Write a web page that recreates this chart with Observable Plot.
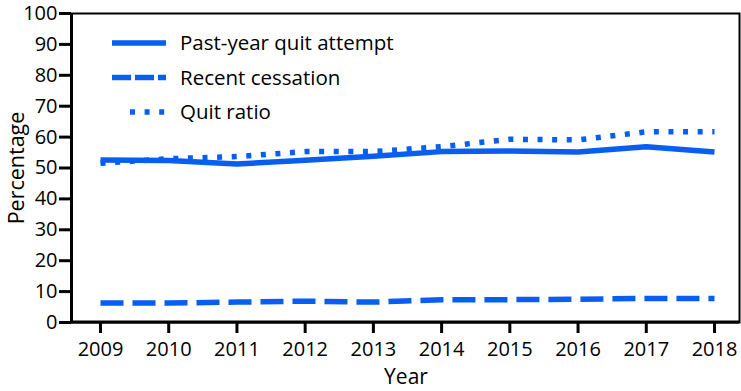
<!DOCTYPE html>
<html>
<head>
<meta charset="utf-8">
<script src="https://cdn.jsdelivr.net/npm/d3@7"></script>
<script src="https://cdn.jsdelivr.net/npm/@observablehq/plot@0.6"></script>
<style>
  html, body { margin: 0; padding: 0; background: #fff; }
  #chart svg { display: block; font-family: "Open Sans", sans-serif; }
</style>
</head>
<body>
<div id="chart"></div>
<script>
const years = [2009, 2010, 2011, 2012, 2013, 2014, 2015, 2016, 2017, 2018];
const pastYearQuitAttempt = [52.6, 52.4, 51.3, 52.5, 53.8, 55.3, 55.5, 55.2, 56.9, 55.2];
const recentCessation = [6.3, 6.3, 6.6, 6.9, 6.6, 7.4, 7.4, 7.5, 7.8, 7.8];
const quitRatio = [51.5, 53.0, 53.7, 55.3, 55.3, 56.9, 59.3, 59.1, 61.7, 61.7];
const seriesNames = ["Past-year quit attempt", "Recent cessation", "Quit ratio"];
const yTicks = [0, 10, 20, 30, 40, 50, 60, 70, 80, 90, 100];

const blue = "#075ef0";
const dashes = [null, "23,9", "5,9.6"];
const allSeries = [pastYearQuitAttempt, recentCessation, quitRatio];

const rows = [];
allSeries.forEach((vals, si) => vals.forEach((v, i) => rows.push({series: seriesNames[si], year: years[i], value: v})));

const W = 741, H = 391;
const chart = Plot.plot({
  width: W,
  height: H,
  marginLeft: 71,
  marginRight: 2,
  marginTop: 13,
  marginBottom: 69,
  style: {fontFamily: "Open Sans, sans-serif", fontSize: "20px", color: "#000", background: "#fff"},
  x: {domain: [2009, 2018], range: [100, 714]},
  y: {domain: [0, 100]},
  marks: [
    Plot.frame({stroke: "#000", strokeWidth: 2}),
    Plot.axisY({ticks: yTicks, tickSize: 12, tickPadding: 2, strokeWidth: 3, fontSize: 20, label: null}),
    Plot.axisX({ticks: years, tickFormat: d => String(d), tickSize: 11, tickPadding: 8, strokeWidth: 3, fontSize: 20, label: null}),
    ...seriesNames.map((name, si) =>
      Plot.line(rows.filter(r => r.series === name), {
        x: "year", y: "value", stroke: blue, strokeWidth: 5.5,
        strokeDasharray: dashes[si], strokeLinecap: "butt", strokeLinejoin: "round"
      })
    )
  ]
});

const svg = d3.select(chart);
// heavier left and bottom axis lines
svg.append("line").attr("x1", 71.5).attr("x2", 71.5).attr("y1", 13).attr("y2", 323)
  .attr("stroke", "#000").attr("stroke-width", 3);
svg.append("line").attr("x1", 70).attr("x2", 739).attr("y1", 322).attr("y2", 322)
  .attr("stroke", "#000").attr("stroke-width", 3);

// axis titles
svg.append("text").attr("transform", "translate(24,168) rotate(-90)")
  .attr("text-anchor", "middle").attr("font-size", 21.5).attr("fill", "#000").text("Percentage");
svg.append("text").attr("x", 406).attr("y", 384)
  .attr("text-anchor", "middle").attr("font-size", 21).attr("fill", "#000").text("Year");

// legend inside plot
const leg = svg.append("g").attr("font-family", "Open Sans, sans-serif").attr("font-size", 20.5);
const legDash = [null, "19,4", "5,9.6"];
const legX0 = [112, 112, 130];
seriesNames.forEach((name, i) => {
  const y = 43 + i * 34.5;
  leg.append("line").attr("x1", legX0[i]).attr("x2", 166).attr("y1", y).attr("y2", y)
    .attr("stroke", blue).attr("stroke-width", 5.5)
    .attr("stroke-dasharray", legDash[i]);
  leg.append("text").attr("x", 180).attr("y", y).attr("dy", "0.35em")
    .attr("text-anchor", "start").attr("fill", "#000").text(name);
});

document.getElementById("chart").appendChild(chart);
</script>
</body>
</html>
